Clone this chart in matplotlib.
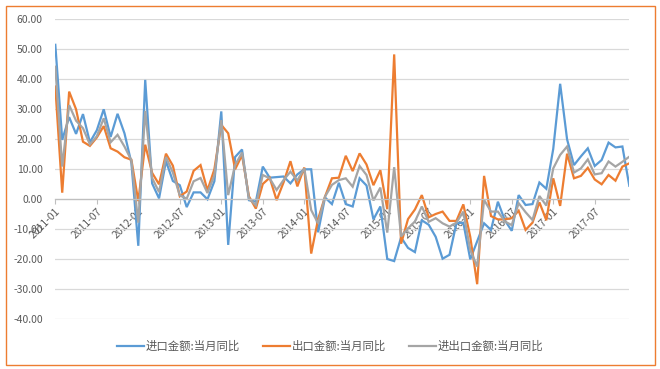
import numpy as np
import matplotlib
matplotlib.use("Agg")
import matplotlib.pyplot as plt
from matplotlib.patches import Rectangle

plt.rcParams['font.family'] = ['Noto Sans CJK SC', 'DejaVu Sans']

# monthly data, 2011-01 .. 2017-12
months = ["%d-%02d" % (y, m) for y in range(2011, 2018) for m in range(1, 13)]

imports_yoy = [
    51.5, 19.8, 27.4, 21.8, 28.4, 19.0, 23.0, 30.0, 20.8, 28.5, 22.0, 12.2,
    -15.5, 39.8, 5.3, 0.3, 12.7, 6.1, 4.7, -2.6, 2.3, 2.3, 0.0, 6.0,
    29.3, -15.2, 14.1, 16.6, -0.3, -0.8, 10.9, 7.2, 7.4, 7.6, 5.3, 8.3,
    10.0, 10.0, -11.0, 0.6, -1.6, 5.5, -1.6, -2.4, 7.0, 4.6, -6.7, -2.4,
    -19.9, -20.6, -12.7, -16.2, -17.6, -7.0, -8.5, -12.5, -19.8, -18.5, -8.0, -7.8,
    -20.0, -14.0, -8.0, -10.2, -0.8, -7.0, -10.5, 1.4, -1.9, -1.6, 5.6, 3.5,
    16.8, 38.5, 20.0, 11.4, 14.3, 17.0, 11.1, 13.1, 18.9, 17.3, 17.6, 4.5,
]
exports_yoy = [
    37.6, 2.2, 35.9, 30.0, 19.2, 17.8, 20.6, 24.4, 17.0, 15.9, 14.0, 13.2,
    -0.6, 18.2, 8.8, 5.0, 15.2, 11.2, 1.0, 2.6, 9.5, 11.4, 3.0, 10.0,
    24.8, 22.0, 10.0, 14.7, 1.0, -3.1, 5.1, 7.2, -0.3, 5.6, 12.7, 4.3,
    10.6, -18.1, -6.6, 0.9, 7.0, 7.2, 14.5, 9.4, 15.3, 11.6, 4.7, 9.7,
    -3.3, 48.3, -14.8, -6.6, -3.4, 1.4, -6.0, -4.9, -4.1, -7.2, -7.2, -1.7,
    -12.5, -28.3, 7.8, -5.6, -6.7, -6.7, -6.3, -3.8, -10.2, -7.8, -1.0, -7.0,
    7.0, -2.2, 15.2, 7.0, 7.8, 10.5, 6.6, 5.0, 8.1, 6.2, 10.9, 12.0,
]
total_yoy = [
    44.2, 10.9, 31.4, 26.2, 23.7, 18.3, 21.0, 27.0, 19.0, 21.5, 17.6, 13.0,
    -7.8, 29.5, 7.1, 2.4, 14.1, 8.9, 1.3, 0.2, 6.0, 7.1, 2.1, 8.0,
    26.4, 1.4, 11.4, 15.6, 0.3, -2.0, 8.1, 7.0, 3.1, 6.4, 9.2, 6.3,
    10.3, -3.6, -8.0, 0.9, 4.8, 6.4, 7.0, 4.2, 11.1, 8.1, -0.4, 3.9,
    -11.1, 10.7, -12.4, -9.7, -7.4, -2.4, -7.5, -6.3, -8.0, -9.1, -7.8, -4.1,
    -16.9, -22.4, -0.2, -4.1, -4.1, -7.4, -8.6, -1.3, -4.3, -6.9, 1.1, -2.1,
    10.3, 14.8, 17.6, 8.9, 10.3, 13.3, 8.3, 8.7, 12.6, 10.9, 12.5, 14.2,
]

series_names = ["进口金额:当月同比", "出口金额:当月同比", "进出口金额:当月同比"]
colors = ["#5B9BD5", "#ED7D31", "#A5A5A5"]

x = np.arange(len(months))

fig = plt.figure(figsize=(6.6, 3.69), dpi=100)
ax = fig.add_axes([0.0838, 0.1347, 0.8697, 0.813])

for vals, name, c in zip([imports_yoy, exports_yoy, total_yoy], series_names, colors):
    ax.plot(x, vals, color=c, lw=1.6, label=name, solid_joinstyle='miter')

ax.set_ylim(-40, 60)
ax.set_xlim(0, len(months) - 1)
ax.set_yticks(np.arange(-40, 61, 10))
ax.set_yticklabels(["%.2f" % v for v in np.arange(-40, 61, 10)])
ax.yaxis.grid(True, color="#D9D9D9", lw=0.9)
ax.set_axisbelow(True)
ax.tick_params(axis='y', length=0, pad=9, labelsize=7.5, labelcolor="#595959")

for s in ['left', 'right', 'top']:
    ax.spines[s].set_visible(False)
ax.spines['bottom'].set_position(('data', 0))
ax.spines['bottom'].set_color("#BFBFBF")
ax.spines['bottom'].set_linewidth(0.9)

tick_idx = x[::6]
ax.set_xticks(tick_idx)
ax.set_xticklabels([months[i] for i in tick_idx], rotation=45, ha='right',
                   va='top', rotation_mode='anchor')
ax.tick_params(axis='x', direction='out', length=3.5, width=0.8, color="#BFBFBF",
               pad=1.5, labelsize=7.5, labelcolor="#595959")

leg = fig.legend(loc='center', bbox_to_anchor=(0.5, 1 - 346 / 369), ncol=3,
                 frameon=False, fontsize=8.2, handlelength=2.4, handletextpad=0.15,
                 columnspacing=2.0, labelcolor="#595959")

# chart border
fig.patches.append(Rectangle((5.5 / 660, 4 / 369), 649.5 / 660, 359.5 / 369,
                             transform=fig.transFigure, fill=False,
                             edgecolor="#ED7D31", lw=1.0))

fig.savefig("out.png", dpi=100)
